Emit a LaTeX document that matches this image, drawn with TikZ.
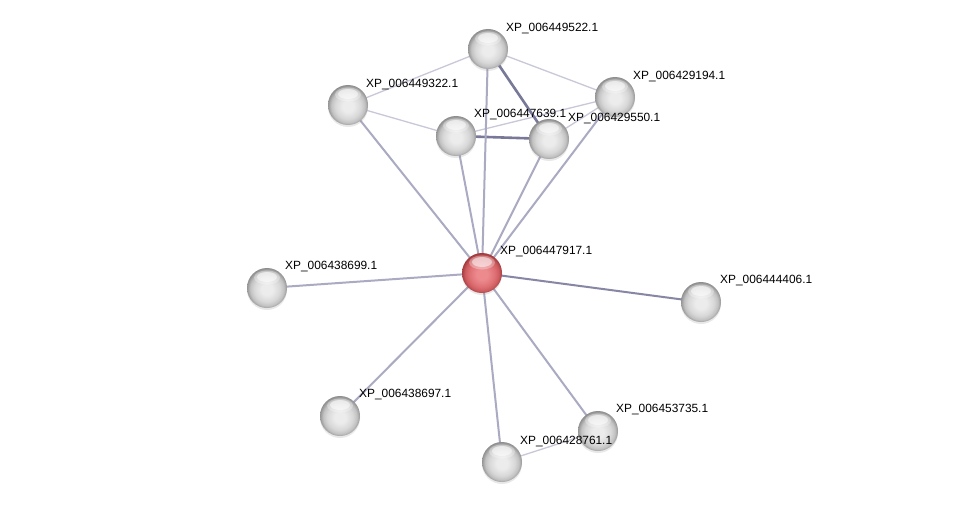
\documentclass[tikz,border=0pt]{standalone}
\usepackage{fontspec}
\setmainfont{Liberation Sans}
\usetikzlibrary{backgrounds,shadows}
\definecolor{thinE}{RGB}{200,200,216}
\definecolor{midE}{RGB}{170,170,194}
\definecolor{thickE}{RGB}{120,120,152}
\definecolor{gA}{RGB}{236,236,236}
\definecolor{gB}{RGB}{216,216,216}
\definecolor{gC}{RGB}{194,194,194}
\definecolor{gD}{RGB}{150,150,150}
\definecolor{gE}{RGB}{125,125,125}
\definecolor{rA}{RGB}{236,138,142}
\definecolor{rB}{RGB}{222,112,116}
\definecolor{rC}{RGB}{205,92,96}
\definecolor{rD}{RGB}{168,62,66}
\definecolor{rE}{RGB}{142,46,50}
\pgfdeclareradialshading{graysphere}{\pgfpoint{0bp}{-2bp}}{color(0bp)=(gA); color(7bp)=(gA); color(16bp)=(gB); color(21bp)=(gC); color(25bp)=(gD); color(28bp)=(gE); color(50bp)=(gE)}
\pgfdeclareradialshading{redsphere}{\pgfpoint{0bp}{-2bp}}{color(0bp)=(rA); color(7bp)=(rA); color(16bp)=(rB); color(21bp)=(rC); color(25bp)=(rD); color(28bp)=(rE); color(50bp)=(rE)}
\begin{document}
\begin{tikzpicture}[x=1pt,y=-1pt,
  prot/.style={circle,minimum size=40pt,inner sep=0pt,shading=graysphere,
    drop shadow={shadow xshift=0pt,shadow yshift=-2pt,opacity=0.18},
    path picture={\fill[white,opacity=0.3] ([yshift=10.5pt]path picture bounding box.center) ellipse (13pt and 7pt);
      \fill[white,opacity=0.5] ([yshift=11pt]path picture bounding box.center) ellipse (10pt and 5pt);}},
  hub/.style={prot,shading=redsphere},
  lbl/.style={anchor=west,inner sep=0pt,font=\fontsize{11.9}{13}\selectfont},
  thinedge/.style={draw=thinE,line width=1.3pt},
  midedge/.style={draw=midE,line width=2pt},
  thickedge/.style={draw=thickE,line width=2.6pt}]
\useasboundingbox (0,0) rectangle (976,508);
% nodes
\node[hub]  (c)  at (482,273) {};
\node[prot] (a)  at (488,49)  {};
\node[prot] (b)  at (348,105) {};
\node[prot] (d)  at (615,97)  {};
\node[prot] (e)  at (456,136) {};
\node[prot] (f)  at (549,139) {};
\node[prot] (g)  at (267,288) {};
\node[prot] (h)  at (701,302) {};
\node[prot] (i)  at (340,416) {};
\node[prot] (j)  at (598,431) {};
\node[prot] (k)  at (502,462) {};
% labels
\node[lbl] (la) at (506,29)  {XP\_006449522.1};
\node[lbl] (lb) at (366,85)  {XP\_006449322.1};
\node[lbl] (ld) at (633,77)  {XP\_006429194.1};
\node[lbl] (le) at (474,115) {XP\_006447639.1};
\node[lbl] (lf) at (568,119) {XP\_006429550.1};
\node[lbl] (lc) at (500,252) {XP\_006447917.1};
\node[lbl] (lg) at (285,267) {XP\_006438699.1};
\node[lbl] (lh) at (720,281) {XP\_006444406.1};
\node[lbl] (li) at (359,395) {XP\_006438697.1};
\node[lbl] (lj) at (616,410) {XP\_006453735.1};
\node[lbl] (lk) at (520,442) {XP\_006428761.1};
% edges
\begin{pgfonlayer}{background}
\fill[white] (0,0) rectangle (976,508);
\path[thinedge] (a.center) -- (b.center);
\path[thinedge] (a.center) -- (d.center);
\path[thinedge] (b.center) -- (e.center);
\path[thinedge] (e.center) -- (d.center);
\path[thinedge] (d.center) -- (f.center);
\path[thinedge] (k.center) -- (j.center);
\path[thickedge] (a.center) -- (f.center);
\path[thickedge] (e.center) -- (f.center);
\path[midedge] (c.center) -- (a.center);
\path[midedge] (c.center) -- (b.center);
\path[midedge] (c.center) -- (d.center);
\path[midedge] (c.center) -- (e.center);
\path[midedge] (c.center) -- (f.center);
\path[midedge] (c.center) -- (g.center);
\path[midedge,draw=thickE!70!midE] (c.center) -- (h.center);
\path[midedge] (c.center) -- (i.center);
\path[midedge] (c.center) -- (j.center);
\path[midedge] (c.center) -- (k.center);
\end{pgfonlayer}
\end{tikzpicture}
\end{document}
